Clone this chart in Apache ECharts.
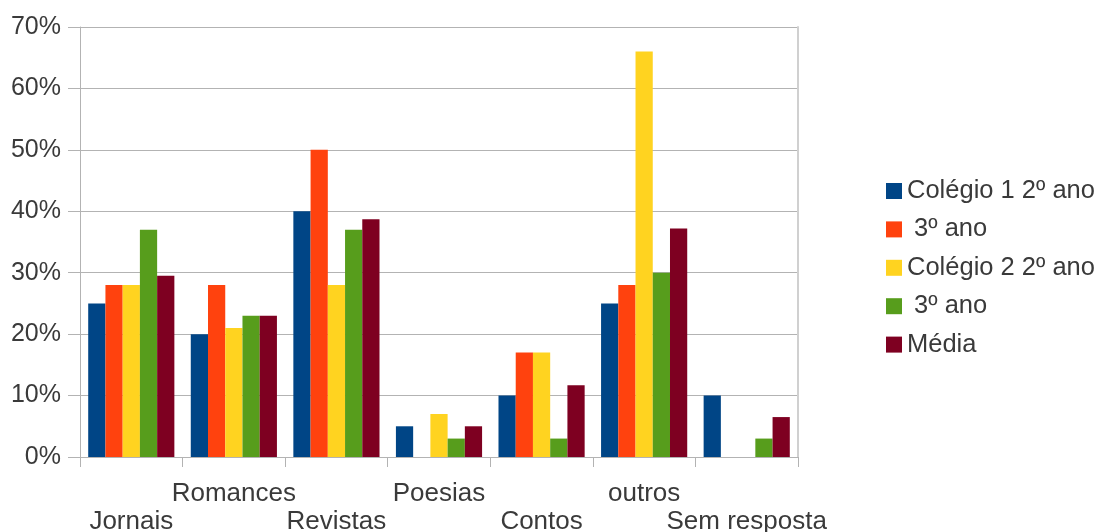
<!DOCTYPE html>
<html>
<head>
<meta charset="utf-8">
<script src="https://cdn.jsdelivr.net/npm/echarts@6/dist/echarts.min.js"></script>
<style>
  html, body { margin: 0; padding: 0; background: #ffffff; }
  #chart { width: 1103px; height: 532px; }
</style>
</head>
<body>
<div id="chart"></div>
<script>
// Reading preferences by school and year (% of students)
const categories = ['Jornais', 'Romances', 'Revistas', 'Poesias', 'Contos', 'outros', 'Sem resposta'];
const seriesNames = ['Colégio 1 2º ano', ' 3º ano', 'Colégio 2 2º ano', ' 3º ano ', 'Média'];
const colegio1Ano2 = [25, 20, 40, 5, 10, 25, 10];
const colegio1Ano3 = [28, 28, 50, 0, 17, 28, 0];
const colegio2Ano2 = [28, 21, 28, 7, 17, 66, 0];
const colegio2Ano3 = [37, 23, 37, 3, 3, 30, 3];
const media = [29.5, 23, 38.7, 5, 11.7, 37.2, 6.5];
const yTicks = [0, 10, 20, 30, 40, 50, 60, 70];

const colors = ['#004586', '#ff420e', '#ffd320', '#579d1c', '#7e0021'];
const seriesValues = [colegio1Ano2, colegio1Ano3, colegio2Ano2, colegio2Ano3, media];

const chart = echarts.init(document.getElementById('chart'), null, { renderer: 'canvas' });
const font = 'Liberation Sans, Arial, sans-serif';
const gridColor = '#b3b3b3';
const textColor = '#3a3a3a';

chart.setOption({
  animation: false,
  color: colors,
  textStyle: { fontFamily: font },
  grid: { left: 80, right: 305, top: 27, bottom: 75, containLabel: false, outerBoundsMode: 'none' },
  legend: {
    orient: 'vertical',
    left: 886,
    top: 178,
    padding: 0,
    icon: 'rect',
    itemWidth: 16,
    itemHeight: 16,
    itemGap: 12.4,
    itemTextGap: 9,
    data: seriesNames,
    formatter: name => name.replace(/ $/, ''),
    textStyle: { fontSize: 25.5, color: textColor, fontFamily: font, lineHeight: 25 }
  },
  xAxis: {
    type: 'category',
    data: categories,
    axisLine: { show: true, lineStyle: { color: gridColor, width: 1 } },
    axisTick: { show: true, length: 10, lineStyle: { color: gridColor } },
    axisLabel: {
      interval: 0,
      margin: 23.5,
      fontSize: 26,
      lineHeight: 27.5,
      color: textColor,
      fontFamily: font,
      // alternate labels between two rows
      formatter: (value, index) => (index % 2 === 0 ? '\n' + value : value + '\n')
    },
    splitLine: { show: false }
  },
  yAxis: [{
    type: 'value',
    min: yTicks[0],
    max: yTicks[yTicks.length - 1],
    interval: 10,
    axisLine: { show: true, lineStyle: { color: gridColor, width: 1 } },
    axisTick: { show: true, length: 12, lineStyle: { color: gridColor } },
    axisLabel: {
      margin: 19,
      fontSize: 25,
      color: textColor,
      fontFamily: font,
      formatter: v => v + '%'
    },
    splitLine: { show: true, lineStyle: { color: gridColor, width: 1 } }
  }, {
    // right wall of the plot area
    type: 'value',
    position: 'right',
    min: yTicks[0],
    max: yTicks[yTicks.length - 1],
    interval: 10,
    axisLine: { show: true, lineStyle: { color: '#d0d0d0', width: 2 } },
    axisTick: { show: false },
    axisLabel: { show: false },
    splitLine: { show: false }
  }],
  series: seriesValues.map((vals, i) => ({
    name: seriesNames[i],
    type: 'bar',
    data: vals,
    barGap: '0%',
    barCategoryGap: '16%',
    itemStyle: { color: colors[i] }
  }))
});
</script>
</body>
</html>
